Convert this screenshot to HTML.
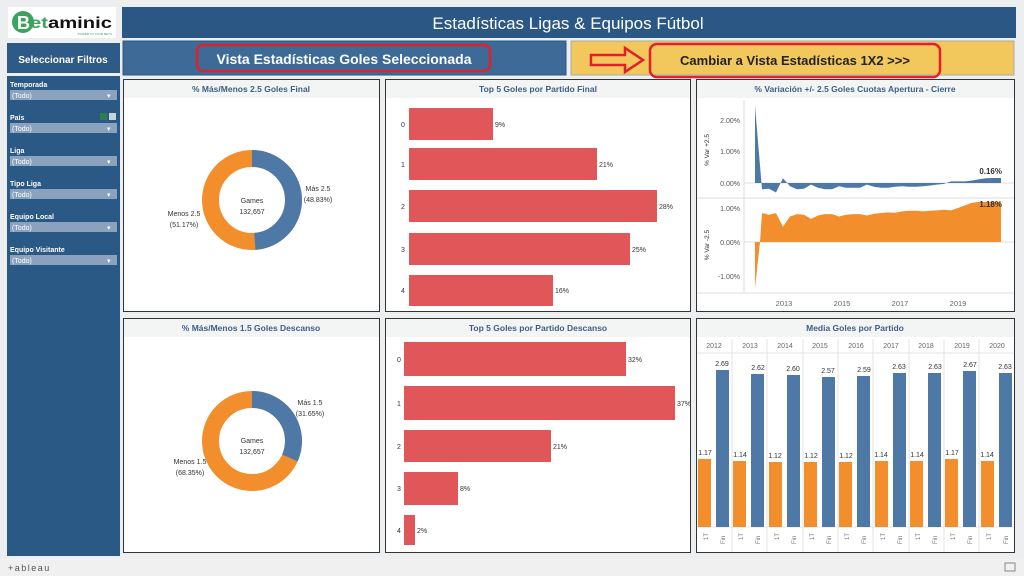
<!DOCTYPE html>
<html><head><meta charset="utf-8"><style>
body{margin:0;background:#e9ecee;}
svg{display:block;font-family:"Liberation Sans",sans-serif;}
</style></head><body>
<svg width="1024" height="576" viewBox="0 0 1024 576" xmlns="http://www.w3.org/2000/svg">
<rect width="1024" height="576" fill="#eceef0"/>
<!-- logo -->
<rect x="8" y="7" width="108" height="31" fill="#fff"/>
<circle cx="23" cy="22" r="11" fill="#3aa45c"/>
<text x="17" y="29" font-size="18" font-weight="bold" fill="#fff">B</text>
<text x="30" y="28" font-size="16" font-weight="bold" fill="#3aa45c" textLength="82" lengthAdjust="spacingAndGlyphs">et<tspan fill="#111">aminic</tspan></text>
<text x="112" y="35" font-size="3" fill="#3aa45c" text-anchor="end">POWER TO YOUR BETS</text>
<!-- header -->
<rect x="122" y="7" width="894" height="31" fill="#2a5783"/>
<text x="568" y="29" font-size="17" fill="#fff" text-anchor="middle">Estadísticas Ligas &amp; Equipos Fútbol</text>
<!-- sidebar -->
<rect x="7" y="43" width="113" height="30" fill="#2d5a87"/>
<text x="63" y="63" font-size="10" font-weight="bold" fill="#fff" text-anchor="middle">Seleccionar Filtros</text>
<rect x="7" y="76" width="113" height="480" fill="#2b5985"/>
<g font-size="7" font-weight="bold" fill="#fff">
<text x="10" y="87">Temporada</text><text x="10" y="120">País</text><text x="10" y="153">Liga</text><text x="10" y="186">Tipo Liga</text><text x="10" y="219">Equipo Local</text><text x="10" y="252">Equipo Visitante</text>
</g>
<rect x="100" y="113" width="7" height="7" fill="#2f7d4a"/><rect x="109" y="113" width="7" height="7" fill="#c9d3dc"/>
<g fill="#8aa2bd">
<rect x="10" y="90" width="107" height="10"/><rect x="10" y="123" width="107" height="10"/><rect x="10" y="156" width="107" height="10"/><rect x="10" y="189" width="107" height="10"/><rect x="10" y="222" width="107" height="10"/><rect x="10" y="255" width="107" height="10"/>
</g>
<g font-size="7" fill="#fff">
<text x="12" y="98">(Todo)</text><text x="12" y="131">(Todo)</text><text x="12" y="164">(Todo)</text><text x="12" y="197">(Todo)</text><text x="12" y="230">(Todo)</text><text x="12" y="263">(Todo)</text>
<text x="107" y="98">▾</text><text x="107" y="131">▾</text><text x="107" y="164">▾</text><text x="107" y="197">▾</text><text x="107" y="230">▾</text><text x="107" y="263">▾</text>
</g>
<!-- second row -->
<rect x="123" y="41" width="443" height="34" fill="#3d6a96" stroke="#2a5783"/>
<rect x="197" y="45" width="293" height="26" rx="6" fill="none" stroke="#e0202a" stroke-width="2.5"/>
<text x="344" y="64" font-size="14" font-weight="bold" fill="#fff" text-anchor="middle">Vista Estadísticas Goles Seleccionada</text>
<rect x="571" y="41" width="443" height="34" fill="#f2c75c" stroke="#aaa"/>
<path d="M591 55 L625 55 L625 48 L643 60 L625 72 L625 65 L591 65 Z" fill="none" stroke="#e0202a" stroke-width="2.5"/>
<rect x="650" y="44" width="290" height="33" rx="7" fill="none" stroke="#e0202a" stroke-width="2.5"/>
<text x="795" y="65" font-size="13" font-weight="bold" fill="#222" text-anchor="middle">Cambiar a Vista Estadísticas 1X2 &gt;&gt;&gt;</text>
<!-- panels -->
<g fill="#fff" stroke="#333" stroke-width="1">
<rect x="123.5" y="79.5" width="256" height="232"/><rect x="385.5" y="79.5" width="305" height="232"/><rect x="696.5" y="79.5" width="318" height="232"/>
<rect x="123.5" y="318.5" width="256" height="234"/><rect x="385.5" y="318.5" width="305" height="234"/><rect x="696.5" y="318.5" width="318" height="234"/>
</g>
<g fill="#f3f4f4">
<rect x="124" y="80" width="255" height="18"/><rect x="386" y="80" width="304" height="18"/><rect x="697" y="80" width="317" height="18"/>
<rect x="124" y="319" width="255" height="18"/><rect x="386" y="319" width="304" height="18"/><rect x="697" y="319" width="317" height="18"/>
</g>
<g font-size="8.5" font-weight="bold" fill="#3d5f85" text-anchor="middle">
<text x="251" y="92">% Más/Menos 2.5  Goles Final</text>
<text x="538" y="92">Top 5 Goles por Partido Final</text>
<text x="855" y="92">% Variación +/- 2.5 Goles Cuotas Apertura - Cierre</text>
<text x="251" y="331">% Más/Menos 1.5 Goles Descanso</text>
<text x="538" y="331">Top 5 Goles por Partido Descanso</text>
<text x="855" y="331">Media Goles por Partido</text>
</g>
<!-- donut 1 -->
<circle cx="252" cy="200" r="41.5" fill="none" stroke="#f28e2b" stroke-width="17"/>
<circle cx="252" cy="200" r="41.5" fill="none" stroke="#4e79a7" stroke-width="17" stroke-dasharray="127.3 400" transform="rotate(-90 252 200)"/>
<g font-size="7" fill="#333" text-anchor="middle">
<text x="252" y="203">Games</text><text x="252" y="214">132,657</text>
<text x="318" y="191">Más 2.5</text><text x="318" y="202">(48.83%)</text>
<text x="184" y="216">Menos 2.5</text><text x="184" y="227">(51.17%)</text>
</g>
<!-- donut 2 -->
<circle cx="252" cy="441" r="41.5" fill="none" stroke="#f28e2b" stroke-width="17"/>
<circle cx="252" cy="441" r="41.5" fill="none" stroke="#4e79a7" stroke-width="17" stroke-dasharray="82.5 400" transform="rotate(-90 252 441)"/>
<g font-size="7" fill="#333" text-anchor="middle">
<text x="252" y="443">Games</text><text x="252" y="454">132,657</text>
<text x="310" y="405">Más 1.5</text><text x="310" y="416">(31.65%)</text>
<text x="190" y="464">Menos 1.5</text><text x="190" y="475">(68.35%)</text>
</g>
<!-- top5 final -->
<g fill="#e15759">
<rect x="409" y="108" width="84" height="32"/><rect x="409" y="148" width="188" height="32"/><rect x="409" y="190" width="248" height="32"/><rect x="409" y="233" width="221" height="32"/><rect x="409" y="275" width="144" height="31"/>
</g>
<g font-size="7" fill="#333">
<text x="401" y="127">0</text><text x="401" y="167">1</text><text x="401" y="209">2</text><text x="401" y="252">3</text><text x="401" y="293">4</text>
<text x="495" y="127">9%</text><text x="599" y="167">21%</text><text x="659" y="209">28%</text><text x="632" y="252">25%</text><text x="555" y="293">16%</text>
</g>
<!-- top5 descanso -->
<g fill="#e15759">
<rect x="404" y="342" width="222" height="34"/><rect x="404" y="386" width="271" height="34"/><rect x="404" y="430" width="147" height="32"/><rect x="404" y="472" width="54" height="33"/><rect x="404" y="515" width="11" height="30"/>
</g>
<g font-size="7" fill="#333">
<text x="397" y="362">0</text><text x="397" y="406">1</text><text x="397" y="449">2</text><text x="397" y="491">3</text><text x="397" y="533">4</text>
<text x="628" y="362">32%</text><text x="677" y="406">37%</text><text x="553" y="449">21%</text><text x="460" y="491">8%</text><text x="417" y="533">2%</text>
</g>
<!-- variation chart -->
<g stroke="#ddd" stroke-width="1">
<line x1="744" y1="100" x2="744" y2="293"/><line x1="697" y1="198" x2="1014" y2="198"/><line x1="697" y1="293" x2="1014" y2="293"/>
<line x1="744" y1="183" x2="1014" y2="183"/><line x1="744" y1="242" x2="1014" y2="242"/>
</g>
<polygon fill="#4e79a7" points="755,183 755,105.8 762,189.3 769,188.7 776,192.5 783,178.3 790,186.2 797,189.3 804,188.7 811,184.6 818,187.7 825,189.3 832,189.3 839,186.2 846,187.7 853,187.7 860,187.7 867,184.6 874,186.8 881,187.7 888,187.7 895,186.8 902,186.2 909,186.8 916,186.8 923,186.2 930,185.5 937,184.6 944,183.9 951,181.4 958,181.4 965,181.4 972,180.5 979,179.2 986,178.3 993,178 1001,178 1001,183"/>
<polygon fill="#f28e2b" points="755,242 755,287.9 760,242 762,213.1 769,214.8 776,213.1 783,226.7 790,216.5 797,214.1 804,214.8 811,218.9 818,215.5 825,214.1 832,214.1 839,216.5 846,214.8 853,214.1 860,214.1 867,215.5 874,213.8 881,213.1 888,212.4 895,212.8 902,211.4 909,210.7 916,210.7 923,211.4 930,210.7 937,210.4 944,209.7 951,210.4 958,208 965,205.3 972,202.9 979,201.9 986,201.9 993,201.9 1001,201.9 1001,242"/>
<g font-size="7" fill="#555" text-anchor="end">
<text x="740" y="123">2.00%</text><text x="740" y="154">1.00%</text><text x="740" y="186">0.00%</text>
<text x="740" y="211">1.00%</text><text x="740" y="245">0.00%</text><text x="740" y="279">-1.00%</text>
</g>
<g font-size="6.5" fill="#333" text-anchor="middle">
<text transform="translate(709,150) rotate(-90)">% Var +2.5</text>
<text transform="translate(709,245) rotate(-90)">% Var -2.5</text>
</g>
<text x="1002" y="174" font-size="8" font-weight="bold" fill="#333" text-anchor="end">0.16%</text>
<text x="1002" y="207" font-size="8" font-weight="bold" fill="#333" text-anchor="end">1.18%</text>
<g font-size="7.5" fill="#666" text-anchor="middle">
<text x="784" y="306">2013</text><text x="842" y="306">2015</text><text x="900" y="306">2017</text><text x="958" y="306">2019</text>
</g>
<!-- media goles -->
<g stroke="#e3e3e3">
<line x1="697" y1="353" x2="1014" y2="353"/><line x1="697" y1="527" x2="1014" y2="527"/>
<line x1="732" y1="339" x2="732" y2="552"/><line x1="767" y1="339" x2="767" y2="552"/><line x1="803" y1="339" x2="803" y2="552"/><line x1="838" y1="339" x2="838" y2="552"/><line x1="873" y1="339" x2="873" y2="552"/><line x1="909" y1="339" x2="909" y2="552"/><line x1="944" y1="339" x2="944" y2="552"/><line x1="979" y1="339" x2="979" y2="552"/>
</g>
<g font-size="7" fill="#666" text-anchor="middle">
<text x="714" y="348">2012</text><text x="750" y="348">2013</text><text x="785" y="348">2014</text><text x="820" y="348">2015</text><text x="856" y="348">2016</text><text x="891" y="348">2017</text><text x="926" y="348">2018</text><text x="962" y="348">2019</text><text x="997" y="348">2020</text>
</g>
<g fill="#f28e2b">
<rect x="698" y="459" width="13" height="68"/><rect x="733" y="461" width="13" height="66"/><rect x="769" y="462" width="13" height="65"/><rect x="804" y="462" width="13" height="65"/><rect x="839" y="462" width="13" height="65"/><rect x="875" y="461" width="13" height="66"/><rect x="910" y="461" width="13" height="66"/><rect x="945" y="459" width="13" height="68"/><rect x="981" y="461" width="13" height="66"/>
</g>
<g fill="#4e79a7">
<rect x="716" y="370" width="13" height="157"/><rect x="751" y="374" width="13" height="153"/><rect x="787" y="375" width="13" height="152"/><rect x="822" y="377" width="13" height="150"/><rect x="857" y="376" width="13" height="151"/><rect x="893" y="373" width="13" height="154"/><rect x="928" y="373" width="13" height="154"/><rect x="963" y="371" width="13" height="156"/><rect x="999" y="373" width="13" height="154"/>
</g>
<g font-size="7" fill="#333" text-anchor="middle">
<text x="705" y="455">1.17</text><text x="740" y="457">1.14</text><text x="775" y="458">1.12</text><text x="811" y="458">1.12</text><text x="846" y="458">1.12</text><text x="881" y="457">1.14</text><text x="917" y="457">1.14</text><text x="952" y="455">1.17</text><text x="987" y="457">1.14</text>
<text x="722" y="366">2.69</text><text x="758" y="370">2.62</text><text x="793" y="371">2.60</text><text x="828" y="373">2.57</text><text x="864" y="372">2.59</text><text x="899" y="369">2.63</text><text x="935" y="369">2.63</text><text x="970" y="367">2.67</text><text x="1005" y="369">2.63</text>
</g>
<g font-size="6" fill="#777">
<text transform="translate(708,540) rotate(-90)">1T</text><text transform="translate(725,544) rotate(-90)">Fin</text>
<text transform="translate(743,540) rotate(-90)">1T</text><text transform="translate(760,544) rotate(-90)">Fin</text>
<text transform="translate(779,540) rotate(-90)">1T</text><text transform="translate(796,544) rotate(-90)">Fin</text>
<text transform="translate(814,540) rotate(-90)">1T</text><text transform="translate(831,544) rotate(-90)">Fin</text>
<text transform="translate(849,540) rotate(-90)">1T</text><text transform="translate(866,544) rotate(-90)">Fin</text>
<text transform="translate(885,540) rotate(-90)">1T</text><text transform="translate(902,544) rotate(-90)">Fin</text>
<text transform="translate(920,540) rotate(-90)">1T</text><text transform="translate(937,544) rotate(-90)">Fin</text>
<text transform="translate(955,540) rotate(-90)">1T</text><text transform="translate(972,544) rotate(-90)">Fin</text>
<text transform="translate(991,540) rotate(-90)">1T</text><text transform="translate(1008,544) rotate(-90)">Fin</text>
</g>
<!-- footer -->
<rect x="0" y="558" width="1024" height="18" fill="#f0f0f0"/>
<text x="8" y="571" font-size="9" fill="#555" letter-spacing="1.5">+ableau</text>
<rect x="1005" y="563" width="10" height="8" fill="none" stroke="#888"/>
</svg>
</body></html>
